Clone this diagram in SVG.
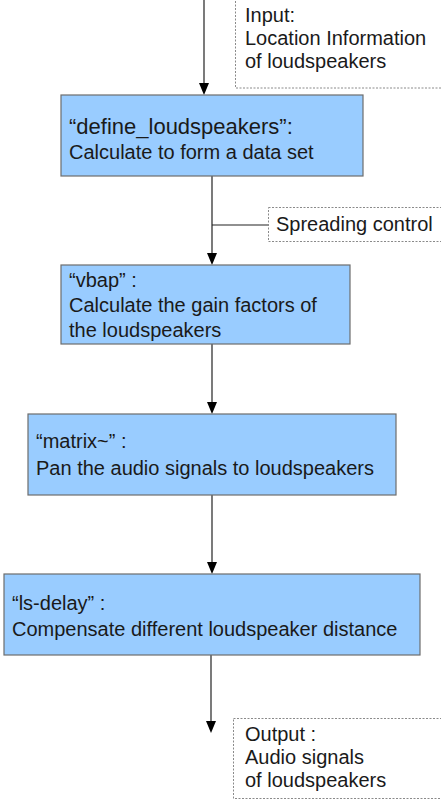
<svg xmlns="http://www.w3.org/2000/svg" width="441" height="800" viewBox="0 0 441 800">
  <style>
    .proc { fill: #99ccff; stroke: #6d6d6d; stroke-width: 1.2; }
    .note { fill: #ffffff; stroke: #8a8a8a; stroke-width: 1; stroke-dasharray: 2 1.5; }
    .lbl { font-family: "Liberation Sans", Arial, sans-serif; font-size: 20px; fill: #1a1a1a; }
    .big { font-size: 22px; }
    .wire { stroke: #222; stroke-width: 1.2; fill: none; }
    .head { fill: #000; }
  </style>
  <rect width="441" height="800" fill="#ffffff"/>

  <g id="connectors">
    <line class="wire" x1="204" y1="0" x2="204" y2="83"/>
    <path class="head" d="M199,83 L209,83 L204,95 Z"/>
    <line class="wire" x1="212" y1="176" x2="212" y2="253"/>
    <path class="head" d="M207,253 L217,253 L212,265 Z"/>
    <line class="wire" x1="212" y1="225" x2="268" y2="225"/>
    <line class="wire" x1="212" y1="344" x2="212" y2="402"/>
    <path class="head" d="M207,402 L217,402 L212,414 Z"/>
    <line class="wire" x1="212" y1="495" x2="212" y2="562"/>
    <path class="head" d="M207,562 L217,562 L212,574 Z"/>
    <line class="wire" x1="211" y1="655" x2="211" y2="721"/>
    <path class="head" d="M206,721 L216,721 L211,733 Z"/>
  </g>

  <g id="input">
    <rect class="note" x="235.5" y="-2" width="210" height="90"/>
    <text class="lbl" x="245" y="22">Input:</text>
    <text class="lbl" x="245" y="45">Location Information</text>
    <text class="lbl" x="245" y="68">of loudspeakers</text>
  </g>

  <g id="define_loudspeakers">
    <rect class="proc" x="61" y="95" width="302" height="81"/>
    <text class="lbl big" x="69" y="134">“define_loudspeakers”:</text>
    <text class="lbl" x="69" y="159">Calculate to form a data set</text>
  </g>

  <g id="spreading">
    <rect class="note" x="268.5" y="207.5" width="180" height="34"/>
    <text class="lbl" x="276" y="231">Spreading control</text>
  </g>

  <g id="vbap">
    <rect class="proc" x="61" y="265" width="289" height="79"/>
    <text class="lbl" x="69" y="287">“vbap” :</text>
    <text class="lbl" x="69" y="312">Calculate the gain factors of</text>
    <text class="lbl" x="69" y="337">the loudspeakers</text>
  </g>

  <g id="matrix">
    <rect class="proc" x="28" y="414" width="368" height="81"/>
    <text class="lbl" x="36" y="448">“matrix~” :</text>
    <text class="lbl" x="36" y="475">Pan the audio signals to loudspeakers</text>
  </g>

  <g id="ls_delay">
    <rect class="proc" x="4" y="574" width="416" height="81"/>
    <text class="lbl" x="12" y="610">“ls-delay” :</text>
    <text class="lbl" x="12" y="636">Compensate different loudspeaker distance</text>
  </g>

  <g id="output">
    <rect class="note" x="233.5" y="718.5" width="212" height="80"/>
    <text class="lbl" x="245" y="741">Output :</text>
    <text class="lbl" x="245" y="764">Audio signals</text>
    <text class="lbl" x="245" y="787">of loudspeakers</text>
  </g>
</svg>
